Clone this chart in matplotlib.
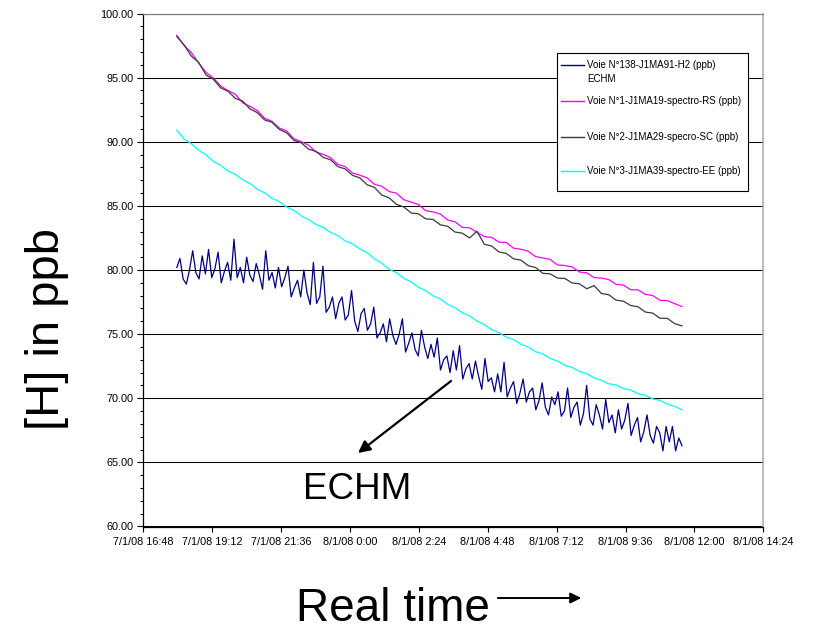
import numpy as np
import pandas as pd
import matplotlib
matplotlib.use("Agg")
import matplotlib.pyplot as plt
from matplotlib.lines import Line2D
from matplotlib.patches import Rectangle, FancyArrowPatch
from matplotlib.ticker import MultipleLocator, FormatStrFormatter

plt.rcParams['font.family'] = ['Liberation Sans', 'DejaVu Sans']

# ---- data -------------------------------------------------------------
axis_start = "2008-01-07 16:48"
axis_end = "2008-01-08 14:24"
record_start = "2008-01-07 17:58"
record_end = "2008-01-08 11:34"

tick_labels = ["7/1/08 16:48", "7/1/08 19:12", "7/1/08 21:36", "8/1/08 0:00",
               "8/1/08 2:24", "8/1/08 4:48", "8/1/08 7:12", "8/1/08 9:36",
               "8/1/08 12:00", "8/1/08 14:24"]

series_names = ["Voie N°138-J1MA91-H2 (ppb)\nECHM",
                "Voie N°1-J1MA19-spectro-RS (ppb)",
                "Voie N°2-J1MA29-specro-SC (ppb)",
                "Voie N°3-J1MA39-spectro-EE (ppb)"]
series_colors = ["#000080", "#FF00FF", "#3a3a3a", "#00FFFF"]

h2_echm = [80.2, 80.9, 79.3, 78.9, 80.0, 81.5, 79.8, 79.3, 81.1, 79.7,
           81.6, 79.4, 80.1, 81.4, 79.0, 79.9, 80.6, 79.2, 82.4, 79.4,
           80.2, 79.0, 81.0, 79.6, 79.1, 80.5, 79.6, 78.5, 81.5, 79.2,
           79.8, 78.6, 80.2, 78.7, 79.4, 80.3, 77.9, 78.6, 79.2, 77.9,
           80.0, 78.2, 77.3, 80.6, 77.4, 77.9, 80.3, 76.7, 77.1, 77.9,
           76.2, 77.4, 77.9, 76.1, 76.5, 78.4, 76.0, 75.2, 76.6, 77.0,
           75.3, 75.8, 77.1, 74.7, 75.1, 75.8, 74.4, 76.2, 74.9, 74.2,
           75.0, 76.2, 73.6, 74.3, 75.1, 73.8, 73.3, 75.3, 74.0, 73.1,
           74.2, 73.2, 74.7, 72.2, 73.0, 73.3, 72.0, 73.7, 72.2, 74.1,
           71.5, 72.3, 72.7, 71.5, 72.9, 71.7, 70.7, 73.1, 71.3, 71.6,
           70.5, 71.9, 70.5, 72.8, 70.1, 70.8, 71.3, 69.6, 70.4, 71.5,
           69.7, 70.5, 70.8, 69.1, 69.8, 71.2, 69.3, 68.7, 70.1, 69.5,
           70.5, 68.6, 69.0, 70.8, 68.5, 69.3, 69.7, 67.9, 68.8, 71.0,
           68.4, 67.9, 69.5, 68.7, 67.6, 69.9, 68.1, 68.7, 67.3, 69.1,
           67.6, 68.3, 69.6, 67.1, 67.9, 68.5, 66.6, 67.4, 68.7, 67.1,
           66.5, 67.8, 67.3, 65.9, 67.8, 66.6, 67.8, 65.9, 66.9, 66.3]

spectro_rs = [98.30, 97.50, 96.95, 96.12, 95.40, 94.97, 94.34, 93.99, 93.70, 93.03,
              92.76, 92.43, 91.83, 91.59, 91.07, 90.84, 90.23, 90.01, 89.73, 89.21,
              89.01, 88.76, 88.24, 88.06, 87.56, 87.39, 87.18, 86.68, 86.53, 86.12,
              85.99, 85.48, 85.30, 85.10, 84.63, 84.53, 84.36, 83.90, 83.76, 83.32,
              83.29, 82.94, 82.60, 82.55, 82.17, 82.15, 81.70, 81.62, 81.46, 81.05,
              80.94, 80.83, 80.39, 80.35, 80.24, 79.84, 79.78, 79.41, 79.37, 79.25,
              78.88, 78.82, 78.46, 78.45, 78.10, 78.01, 77.64, 77.61, 77.38, 77.15]

spectro_sc = [98.20, 97.55, 96.67, 96.18, 95.20, 94.87, 94.20, 93.94, 93.38, 93.17,
              92.56, 92.27, 91.70, 91.52, 90.96, 90.70, 90.11, 89.92, 89.42, 89.26,
              88.78, 88.60, 88.06, 87.88, 87.38, 87.18, 86.65, 86.44, 85.84, 85.63,
              85.12, 84.92, 84.45, 84.38, 83.99, 83.94, 83.52, 83.41, 82.96, 82.87,
              82.50, 83.02, 82.01, 81.87, 81.41, 81.29, 80.87, 80.77, 80.34, 80.19,
              79.74, 79.70, 79.37, 79.34, 78.99, 78.92, 78.54, 78.78, 78.17, 78.07,
              77.65, 77.57, 77.23, 77.13, 76.72, 76.64, 76.24, 76.23, 75.82, 75.64]

spectro_ee = [90.92, 90.20, 89.84, 89.33, 88.98, 88.46, 88.16, 87.72, 87.46, 87.03,
              86.75, 86.30, 86.02, 85.59, 85.33, 84.91, 84.65, 84.22, 83.94, 83.55,
              83.34, 82.93, 82.68, 82.27, 82.03, 81.64, 81.35, 80.87, 80.54, 80.05,
              79.79, 79.35, 79.08, 78.65, 78.39, 77.98, 77.74, 77.33, 77.07, 76.65,
              76.43, 76.01, 75.76, 75.35, 75.11, 74.76, 74.57, 74.21, 74.00, 73.63,
              73.46, 73.09, 72.91, 72.57, 72.40, 72.08, 71.92, 71.59, 71.41, 71.12,
              71.04, 70.76, 70.64, 70.36, 70.23, 69.95, 69.83, 69.54, 69.37, 69.10]

all_series = [h2_echm, spectro_rs, spectro_sc, spectro_ee]

# ---- figure -----------------------------------------------------------
W, H = 813, 631
fig = plt.figure(figsize=(W / 100, H / 100), dpi=100)
ax = fig.add_axes([143.3 / W, 1 - 526.5 / H, 620 / W, 513 / H])

for values, color in zip(all_series, series_colors):
    t = pd.date_range(record_start, record_end, periods=len(values))
    ax.plot(t, values, color=color, lw=0.9, zorder=3)

t0, t1 = pd.Timestamp(axis_start), pd.Timestamp(axis_end)
ticks = pd.date_range(t0, t1, periods=len(tick_labels))
ax.set_xlim(t0, t1)
ax.set_xticks(ticks)
ax.set_xticklabels(tick_labels, fontsize=7.8)

ax.set_ylim(60, 100)
ax.yaxis.set_major_locator(MultipleLocator(5))
ax.yaxis.set_minor_locator(MultipleLocator(1))
ax.yaxis.set_major_formatter(FormatStrFormatter("%.2f"))
ax.tick_params(axis='y', which='major', labelsize=7.8, length=4, width=0.8,
               direction='out', pad=3)
ax.tick_params(axis='y', which='minor', length=2.5, width=0.8, direction='out')
ax.tick_params(axis='x', which='major', length=3.5, width=0.8,
               direction='out', pad=4)

ax.grid(axis='y', which='major', color='black', lw=0.75, zorder=1)
ax.set_axisbelow(True)
for side in ('left', 'bottom'):
    ax.spines[side].set_color('black')
    ax.spines[side].set_linewidth(0.9)
ax.spines['top'].set_color('#808080')
ax.spines['top'].set_linewidth(0.9)
ax.spines['right'].set_color('#b0b0b0')
ax.spines['right'].set_linewidth(1.2)

# ---- legend box ---------------------------------------------------------
def fx(px):
    return px / W


def fy(py):
    return 1 - py / H


fig.add_artist(Rectangle((fx(557), fy(191)), fx(748) - fx(557), fy(53) - fy(191),
                         transform=fig.transFigure, facecolor='white',
                         edgecolor='black', lw=0.8, zorder=5))
legend_rows = [64.6, 101.4, 137.3, 171.4]
for name, color, row in zip(series_names, series_colors, legend_rows):
    fig.add_artist(Line2D([fx(561), fx(584)], [fy(row), fy(row)],
                          transform=fig.transFigure, color=color, lw=1.0, zorder=6))
    fig.text(fx(587), fy(row + 7.6 if "\n" in name else row), name, fontsize=7,
             va='center', ha='left', zorder=6, linespacing=1.55)

# ---- annotations ------------------------------------------------------
fig.text(fx(47), fy(329), "[H] in ppb", rotation=90, fontsize=34,
         ha='center', va='center')
fig.text(fx(393), fy(621), "Real time", fontsize=33, ha='center', va='baseline')
fig.add_artist(FancyArrowPatch((fx(495), fy(598)), (fx(584), fy(598)),
                               transform=fig.transFigure, arrowstyle='-|>',
                               mutation_scale=16, lw=1.4, color='black'))

fig.text(fx(357), fy(499), "ECHM", fontsize=26.5, ha='center', va='baseline')
fig.add_artist(FancyArrowPatch((fx(451), fy(381)), (fx(358), fy(453)),
                               transform=fig.transFigure, arrowstyle='-|>',
                               mutation_scale=18, lw=1.6, color='black',
                               shrinkA=0, shrinkB=0, zorder=6))

fig.savefig("out.png", dpi=100)
